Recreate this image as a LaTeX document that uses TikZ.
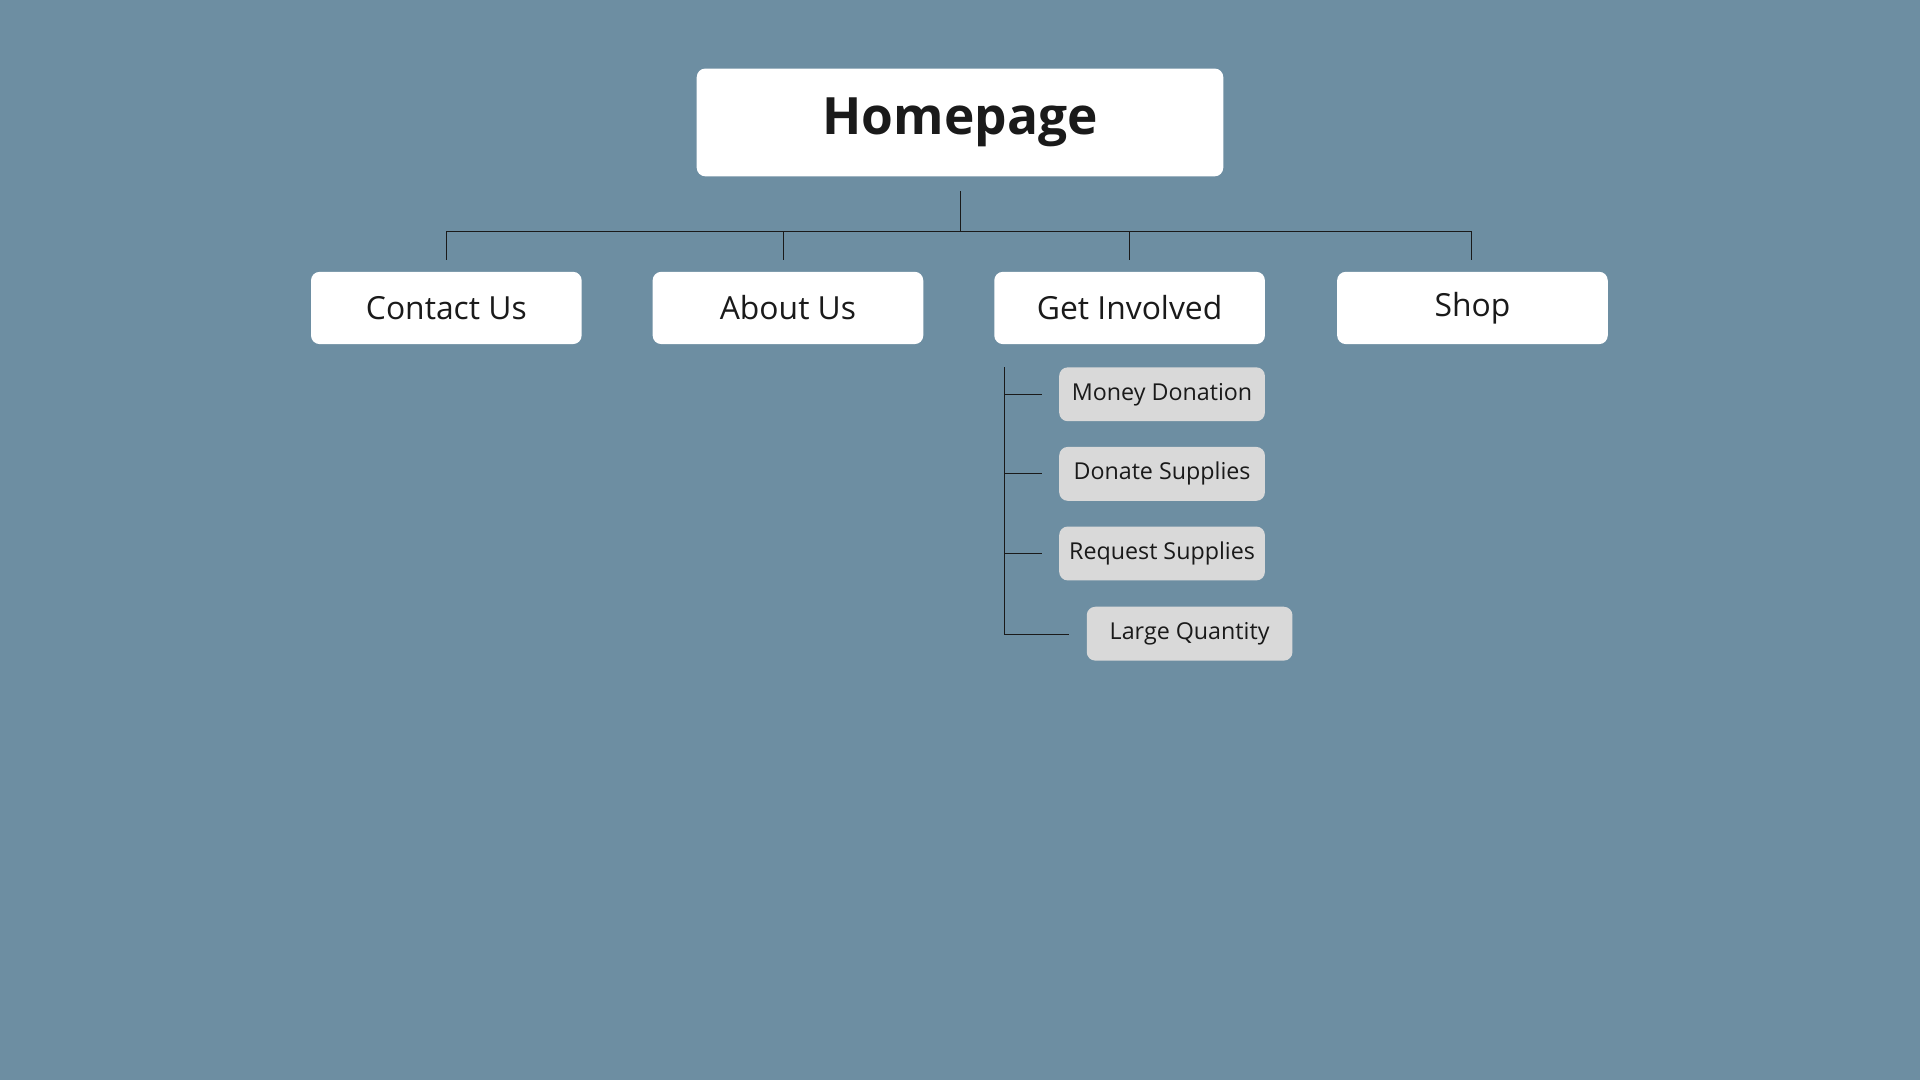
\documentclass[tikz,border=0pt]{standalone}
\usepackage{fontspec}
\setmainfont{Open Sans}
\definecolor{bg}{HTML}{6D8EA2}
\definecolor{sub}{HTML}{D9D9D9}
\definecolor{ink}{HTML}{1A1A1A}
\begin{document}
\begin{tikzpicture}[x=1pt,y=-1pt,
  top/.style={fill=white,rounded corners=7pt,minimum width=430pt,minimum height=88pt,font=\fontsize{42}{48}\selectfont\bfseries,text=ink,inner sep=0pt},
  lvl/.style={fill=white,rounded corners=7pt,minimum width=221pt,minimum height=59pt,font=\fontsize{26}{30}\selectfont,text=ink,inner sep=0pt},
  subbox/.style={fill=sub,rounded corners=7pt,minimum width=168pt,minimum height=44pt,font=\fontsize{19}{22}\selectfont,text=ink,inner sep=0pt},
  conn/.style={draw=ink,line width=0.8pt}]
\fill[bg] (0,0) rectangle (1568,882);
\useasboundingbox (0,0) rectangle (1568,882);
\node[top] (home) at (784,100) {Homepage};
\node[lvl] (contact) at (364.5,251.5) {Contact Us};
\node[lvl] (about) at (643.5,251.5) {About Us};
\node[lvl] (get) at (922.5,251.5) {Get Involved};
\node[lvl] (shop) at (1202.5,251.5) {Shop};
\node[subbox] (money) at (949,322) {Money Donation};
\node[subbox] (donate) at (949,387) {Donate Supplies};
\node[subbox] (request) at (949,452) {Request Supplies};
\node[subbox] (large) at (971.5,517.5) {Large Quantity};
\coordinate (h0) at (784,156);
\coordinate (h1) at (784,189);
\coordinate (b1) at (365,189);
\coordinate (b2) at (1202,189);
\draw[conn] (h0) -- (h1);
\draw[conn] (b1) -- (b2);
\draw[conn] (365,189) -- (365,212);
\draw[conn] (640,189) -- (640,212);
\draw[conn] (922,189) -- (922,212);
\draw[conn] (1202,189) -- (1202,212);
\coordinate (s0) at (820,300);
\coordinate (s1) at (820,518);
\draw[conn] (s0) -- (s1) -- (873,518);
\draw[conn] (820,322) -- (851,322);
\draw[conn] (820,387) -- (851,387);
\draw[conn] (820,452) -- (851,452);
\end{tikzpicture}
\end{document}
